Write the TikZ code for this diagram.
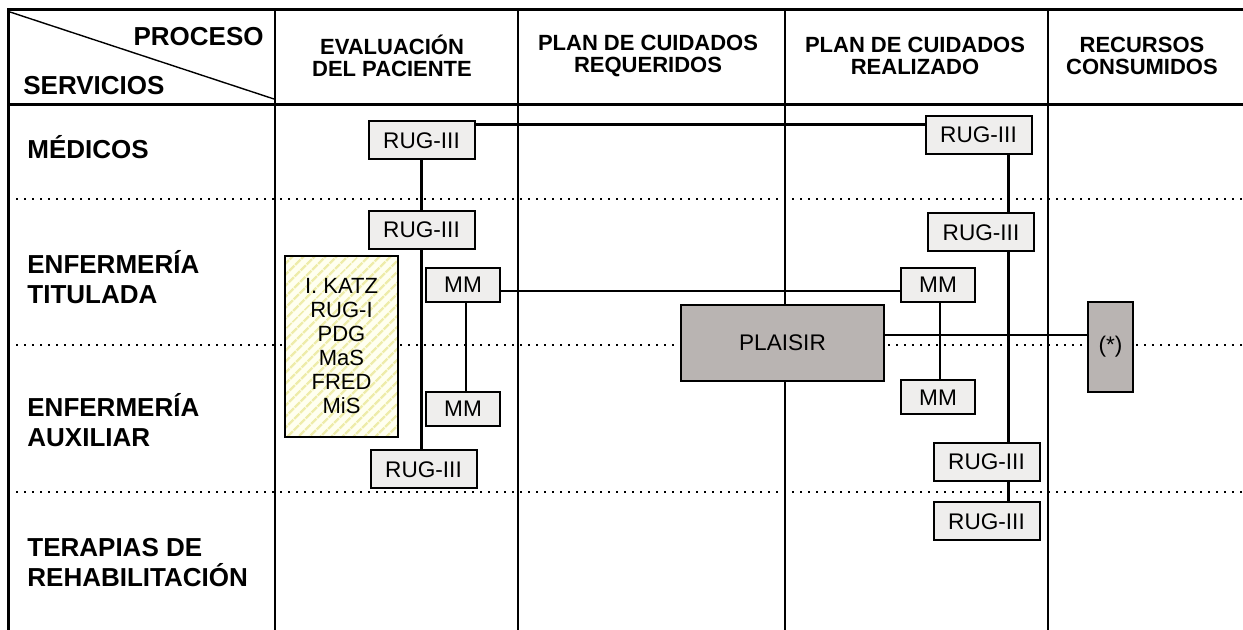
\documentclass[tikz,border=0pt]{standalone}
\usepackage{fontspec}
\setmainfont{Liberation Sans}
\usetikzlibrary{patterns.meta}

\definecolor{boxgray}{RGB}{239,238,237}
\definecolor{plaisirgray}{RGB}{185,180,178}
\definecolor{hatchyellow}{RGB}{238,236,170}
\definecolor{paleyellow}{RGB}{255,255,240}

\begin{document}
\begin{tikzpicture}[x=0.5pt, y=-0.5pt,
    frame/.style={line width=1.5pt},
    colline/.style={line width=0.7pt},
    rowline/.style={line width=1pt, dash pattern=on 1pt off 3pt},
    thickline/.style={line width=1.5pt},
    thinline/.style={line width=0.7pt},
    instr/.style={draw, line width=1pt, fill=boxgray, inner sep=0pt, font=\fontsize{11.3}{13}\selectfont},
    rug/.style={instr, minimum width=53pt, minimum height=19pt},
    mm/.style={instr, minimum width=37pt, minimum height=17pt},
    dark/.style={instr, fill=plaisirgray},
    hdr/.style={align=center, inner sep=0pt, font=\bfseries\fontsize{11}{11}\selectfont},
    rowlbl/.style={align=left, anchor=west, inner sep=0pt, font=\bfseries\fontsize{13}{15}\selectfont}]
  \useasboundingbox (0,0) rectangle (1243,630);

  % table
  \foreach \x in {275,518,785,1048}
    \draw[colline] (\x,10) -- (\x,630);
  \foreach \y in {199,345,492}
    \draw[rowline] (8,\y) -- (1243,\y);
  \draw[colline] (10,12) -- (274,99);
  \draw[frame] (8,630) -- (8,10) -- (1243,10);
  \draw[frame] (8,105) -- (1243,105);

  \node[rowlbl, anchor=east] (lblProceso) at (264,37) {PROCESO};
  \node[rowlbl] (lblServicios) at (23,86) {SERVICIOS};
  \node[hdr] (hdEval) at (392,56) {EVALUACIÓN\\DEL PACIENTE};
  \node[hdr] (hdReq) at (648,56) {PLAN DE CUIDADOS\\REQUERIDOS};
  \node[hdr] (hdReal) at (915,56) {PLAN DE CUIDADOS\\REALIZADO};
  \node[hdr] (hdRec) at (1142,56) {RECURSOS\\CONSUMIDOS};

  \node[rowlbl] (rowMed) at (27,147) {MÉDICOS};
  \node[rowlbl] (rowTit) at (27,277) {ENFERMERÍA\\TITULADA};
  \node[rowlbl] (rowAux) at (27,420) {ENFERMERÍA\\AUXILIAR};
  \node[rowlbl] (rowTer) at (27,563) {TERAPIAS DE\\REHABILITACIÓN};

  % instruments
  \node[draw, line width=1pt, minimum width=56.5pt, minimum height=90.5pt,
    preaction={fill=paleyellow},
    pattern={Lines[angle=45, distance=4pt, line width=1.3pt]}, pattern color=hatchyellow,
    align=center, font=\fontsize{11}{12}\selectfont] (katz) at (341.5,346.5)
    {I. KATZ\\RUG-I\\PDG\\MaS\\FRED\\MiS};

  \coordinate (spineR) at (1008,0);

  \node[rug] (medA) at (421.5,140.5) {RUG-III};
  \node[rug] (enfA) at (421.5,230) {RUG-III};
  \node[rug] (auxA) at (423.5,469.5) {RUG-III};
  \node[mm] (mmA) at (463,285) {MM};
  \node[mm] (mmB) at (463,409) {MM};
  \node[dark, minimum width=101.5pt, minimum height=38pt] (plaisir) at (782.5,343) {PLAISIR};
  \node[rug] (medR) at (978.5,135) {RUG-III};
  \node[rug] (enfR) at (981,232.5) {RUG-III};
  \node[mm] (mmC) at (938,285) {MM};
  \node[mm] (mmD) at (938,397.5) {MM};
  \node[rug] (auxR) at (986.5,462) {RUG-III};
  \node[rug] (terR) at (986.5,521.5) {RUG-III};
  \node[dark, minimum width=22.5pt, minimum height=45pt] (star) at (1110.5,347) {(*)};

  % links
  \draw[thickline] ([yshift=-2pt]medA.north east) -- ([yshift=-2pt]medA.north east -| medR.west);
  \draw[thickline] (medA.south) -- (enfA.north);
  \draw[thickline] (enfA.south) -- (enfA.south |- auxA.north);
  \draw[thickline] (medR.south -| spineR) -- (enfR.north -| spineR);
  \draw[thickline] (enfR.south -| spineR) -- (auxR.north -| spineR);
  \draw[thickline] (auxR.south -| spineR) -- (terR.north -| spineR);
  \draw[thinline] ([xshift=1.5pt]mmA.south) -- ([xshift=1.5pt]mmB.north);
  \draw[thinline] ([xshift=1pt]mmC.south) -- ([xshift=1pt]mmD.north);
  \draw[thinline] ([yshift=-3pt]mmA.east) -- ([yshift=-3pt]mmA.east -| mmC.west);
  \draw[thinline] ([yshift=4pt]plaisir.east) -- ([yshift=4pt]plaisir.east -| star.west);
\end{tikzpicture}
\end{document}
